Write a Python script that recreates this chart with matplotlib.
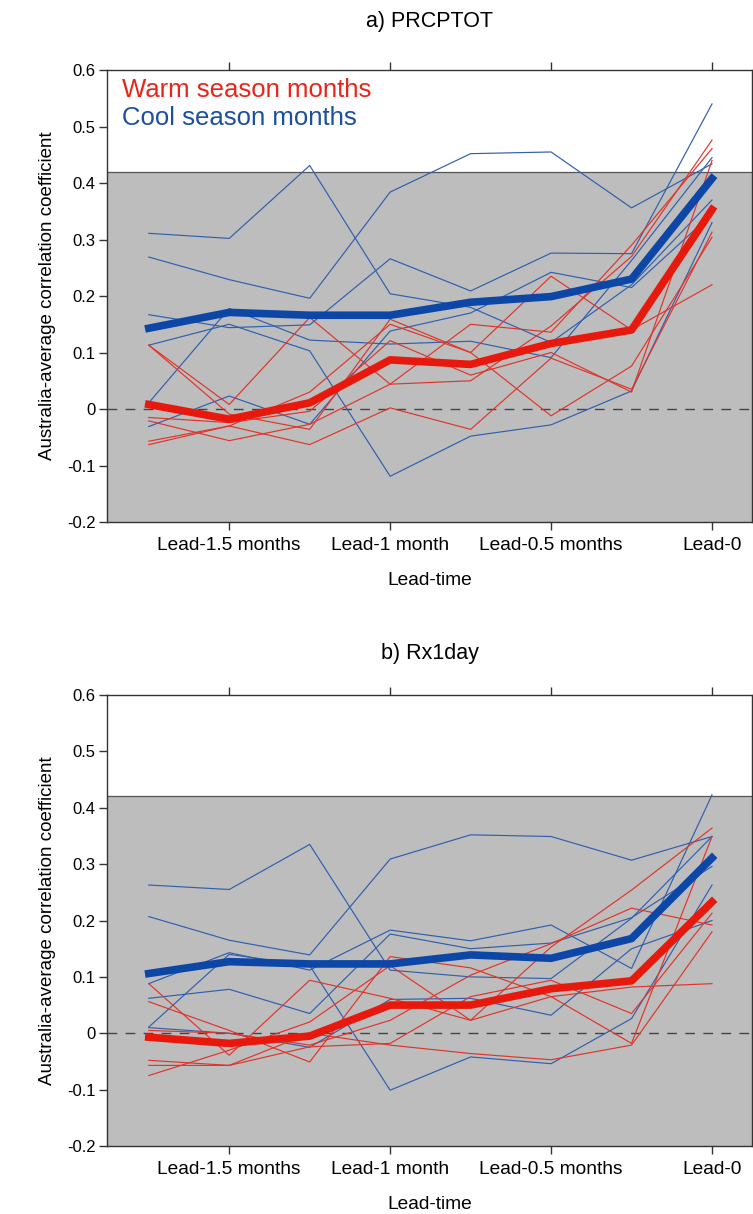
import matplotlib
matplotlib.use("Agg")
import matplotlib.pyplot as plt
import numpy as np

plt.rcParams['font.family'] = ['Liberation Sans', 'DejaVu Sans']

# lead steps (8 points), ticks on every second one
steps = np.arange(8)
tick_pos = [1, 3, 5, 7]
tick_labels = ["Lead-1.5 months", "Lead-1 month", "Lead-0.5 months", "Lead-0"]

# a) PRCPTOT - cool season (blue) months
prcp_cool = [
    [0.311, 0.302, 0.431, 0.204, 0.180, 0.118, 0.220, 0.370],
    [0.269, 0.229, 0.196, 0.384, 0.452, 0.455, 0.356, 0.434],
    [0.167, 0.144, 0.149, 0.266, 0.209, 0.276, 0.275, 0.540],
    [0.113, 0.150, 0.103, -0.119, -0.048, -0.028, 0.032, 0.330],
    [0.011, 0.178, 0.122, 0.115, 0.120, 0.091, 0.263, 0.445],
    [-0.031, 0.023, -0.027, 0.138, 0.170, 0.242, 0.215, 0.345],
]
# a) PRCPTOT - warm season (red) months
prcp_warm = [
    [0.113, 0.008, 0.162, 0.044, 0.050, 0.147, 0.270, 0.476],
    [0.113, -0.009, -0.036, 0.159, 0.100, -0.012, 0.076, 0.304],
    [-0.015, -0.024, -0.004, 0.121, 0.060, 0.100, 0.030, 0.440],
    [-0.021, -0.056, -0.027, 0.044, 0.150, 0.136, 0.290, 0.461],
    [-0.063, -0.030, -0.063, 0.002, -0.036, 0.090, 0.035, 0.313],
    [-0.057, -0.030, 0.030, 0.150, 0.100, 0.235, 0.140, 0.220],
]
prcp_cool_avg = [0.143, 0.171, 0.166, 0.166, 0.189, 0.199, 0.230, 0.408]
prcp_warm_avg = [0.008, -0.018, 0.011, 0.087, 0.079, 0.116, 0.140, 0.353]

# b) Rx1day
rx1_cool = [
    [0.263, 0.255, 0.335, 0.112, 0.100, 0.097, 0.204, 0.349],
    [0.207, 0.165, 0.139, 0.309, 0.352, 0.349, 0.307, 0.349],
    [0.088, 0.143, 0.112, 0.183, 0.164, 0.192, 0.115, 0.423],
    [0.062, 0.078, 0.035, 0.176, 0.150, 0.160, 0.205, 0.296],
    [0.011, 0.140, 0.120, -0.101, -0.042, -0.054, 0.026, 0.263],
    [0.010, 0.000, -0.025, 0.060, 0.062, 0.032, 0.150, 0.200],
]
rx1_warm = [
    [0.088, -0.039, 0.094, 0.062, 0.023, 0.153, 0.254, 0.364],
    [0.056, 0.005, -0.051, 0.136, 0.116, 0.065, -0.018, 0.349],
    [0.005, 0.000, -0.021, 0.023, 0.103, 0.159, 0.222, 0.192],
    [-0.048, -0.057, -0.024, -0.018, 0.065, 0.094, 0.035, 0.213],
    [-0.057, -0.057, 0.000, -0.021, -0.036, -0.047, -0.021, 0.180],
    [-0.075, -0.030, 0.020, 0.120, 0.023, 0.065, 0.082, 0.088],
]
rx1_cool_avg = [0.106, 0.127, 0.123, 0.123, 0.139, 0.133, 0.168, 0.311]
rx1_warm_avg = [-0.007, -0.018, -0.005, 0.050, 0.050, 0.079, 0.093, 0.233]

sig_level = 0.42

red_thin = '#e0342a'
blue_thin = '#2f5faf'
red_thick = '#e8190c'
blue_thick = '#0c47a8'

fig = plt.figure(figsize=(7.53, 12.14), dpi=100)
ax_a = fig.add_axes([0.142, 0.570, 0.857, 0.3723])
ax_b = fig.add_axes([0.142, 0.056, 0.857, 0.3715])


def draw_panel(ax, cool, warm, cool_avg, warm_avg, title_y, title):
    ax.axhspan(-0.2, sig_level, color='#bdbdbd', zorder=0, lw=0)
    ax.axhline(sig_level, color='#555555', lw=0.9, zorder=1)
    ax.axhline(0, color='#444444', lw=1.0, ls=(0, (7, 6)), zorder=1)
    for line in cool:
        ax.plot(steps, line, color=blue_thin, lw=0.85, zorder=2)
    for line in warm:
        ax.plot(steps, line, color=red_thin, lw=0.85, zorder=2)
    ax.plot(steps, cool_avg, color=blue_thick, lw=5.5, zorder=3)
    ax.plot(steps, warm_avg, color=red_thick, lw=5.5, zorder=4)

    ax.set_xlim(-0.52, 7.5)
    ax.set_ylim(-0.2, 0.6)
    ax.set_yticks([-0.2, -0.1, 0, 0.1, 0.2, 0.3, 0.4, 0.5, 0.6])
    ax.set_yticklabels(['-0.2', '-0.1', '0', '0.1', '0.2', '0.3', '0.4', '0.5', '0.6'])
    ax.set_xticks(tick_pos)
    ax.set_xticklabels(tick_labels)
    ax.tick_params(axis='x', which='both', direction='out', length=6, width=1,
                   top=True, labelsize=13.8, pad=5, color='#333333')
    ax.tick_params(axis='y', direction='out', length=6, width=1, labelsize=12,
                   pad=2, color='#333333')
    for s in ax.spines.values():
        s.set_color('#333333')
        s.set_linewidth(1.0)
    ax.set_xlabel('Lead-time', fontsize=13.8, labelpad=13)
    ax.set_ylabel('Australia-average correlation coefficient', fontsize=13.5, labelpad=8)
    fig.text(0.571, title_y, title, ha='center', va='center', fontsize=15.5)


draw_panel(ax_a, prcp_cool, prcp_warm, prcp_cool_avg, prcp_warm_avg, 1 - 22 / 1214, 'a) PRCPTOT')
draw_panel(ax_b, rx1_cool, rx1_warm, rx1_cool_avg, rx1_warm_avg, 1 - 653 / 1214, 'b) Rx1day')

ax_a.text(0.024, 0.956, 'Warm season months', color='#e8251a', fontsize=18.5,
          transform=ax_a.transAxes, va='center', ha='left')
ax_a.text(0.024, 0.894, 'Cool season months', color='#1b4fa0', fontsize=18.5,
          transform=ax_a.transAxes, va='center', ha='left')

fig.savefig('out.png', dpi=100)
